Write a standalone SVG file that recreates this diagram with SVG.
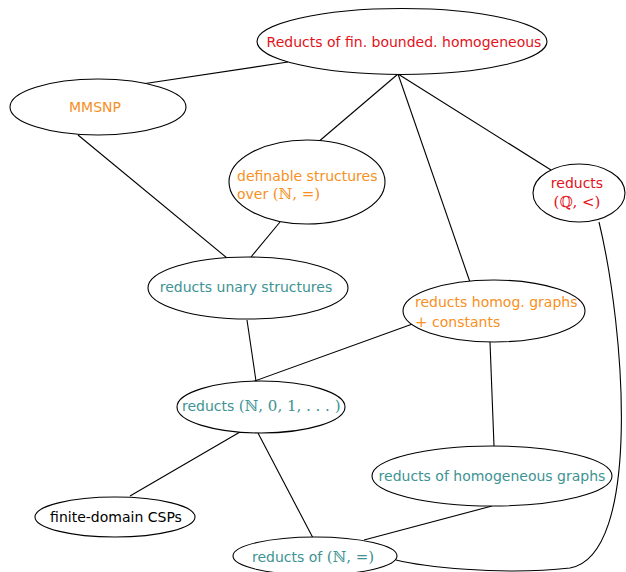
<svg xmlns="http://www.w3.org/2000/svg" width="626" height="572" viewBox="0 0 626 572">
<style>
.n{fill:#fff;stroke:#000;stroke-width:1.1}
.e{fill:none;stroke:#000;stroke-width:1.1}
text{font-family:"DejaVu Sans","Liberation Sans",sans-serif;font-size:14px}
.m{font-family:"DejaVu Serif","Liberation Serif",serif;font-size:15px}
.red{fill:#e3121b}
.or{fill:#f7901e}
.tl{fill:#3d9393}
.bk{fill:#000}
</style>
<rect width="626" height="572" fill="#fff"/>
<g id="edges">
<line class="e" x1="288" y1="62" x2="142" y2="84"/>
<line class="e" x1="398" y1="74" x2="317" y2="143"/>
<line class="e" x1="398" y1="74" x2="471" y2="285"/>
<line class="e" x1="398" y1="74" x2="551" y2="170"/>
<line class="e" x1="78" y1="135" x2="227" y2="258"/>
<line class="e" x1="280" y1="222" x2="251" y2="257"/>
<line class="e" x1="247" y1="320" x2="256" y2="381"/>
<line class="e" x1="418" y1="322" x2="252" y2="382"/>
<line class="e" x1="490" y1="342" x2="494" y2="446"/>
<line class="e" x1="240" y1="432" x2="130" y2="496"/>
<line class="e" x1="258" y1="433" x2="313" y2="538"/>
<line class="e" x1="492" y1="506" x2="364" y2="540"/>
<path class="e" d="M 599 222 C 625 330, 642 555, 570 568 C 500 576, 420 566, 396 560"/>
</g>
<g id="top">
<ellipse class="n" cx="402" cy="41.5" rx="145" ry="33"/>
<text class="red" x="404" y="47" text-anchor="middle">Reducts of fin. bounded. homogeneous</text>
</g>
<g id="mmsnp">
<ellipse class="n" cx="98" cy="107" rx="88" ry="28"/>
<text class="or" x="95" y="112" text-anchor="middle" font-size="15.5">MMSNP</text>
</g>
<g id="definable">
<ellipse class="n" cx="307" cy="182" rx="78" ry="42"/>
<text class="or" x="237" y="181">definable structures</text>
<text class="or" x="237" y="199">over <tspan class="m">(ℕ, =)</tspan></text>
</g>
<g id="reductsQ">
<ellipse class="n" cx="579" cy="193" rx="46" ry="29"/>
<text class="red" x="577" y="188" text-anchor="middle">reducts</text>
<text class="red m" x="577" y="207" text-anchor="middle" font-size="16">(ℚ, &lt;)</text>
</g>
<g id="unary">
<ellipse class="n" cx="248" cy="288" rx="100" ry="31"/>
<text class="tl" x="246" y="292" text-anchor="middle">reducts unary structures</text>
</g>
<g id="homogconst">
<ellipse class="n" cx="494" cy="311" rx="91" ry="31"/>
<text class="or" x="415" y="307">reducts homog. graphs</text>
<text class="or" x="415" y="327"><tspan class="m">+</tspan> constants</text>
</g>
<g id="n01">
<ellipse class="n" cx="261" cy="407" rx="84" ry="26"/>
<text class="tl" x="182" y="411">reducts <tspan class="m">(ℕ, 0, 1, . . . )</tspan></text>
</g>
<g id="homog">
<ellipse class="n" cx="492" cy="476" rx="120" ry="30"/>
<text class="tl" x="492" y="481" text-anchor="middle">reducts of homogeneous graphs</text>
</g>
<g id="finite">
<ellipse class="n" cx="115" cy="517" rx="80" ry="20"/>
<text class="bk" x="116" y="522" text-anchor="middle">finite-domain CSPs</text>
</g>
<g id="neq">
<ellipse class="n" cx="315" cy="556" rx="82" ry="19"/>
<text class="tl" x="252" y="562">reducts of <tspan class="m">(ℕ, =)</tspan></text>
</g>
</svg>
